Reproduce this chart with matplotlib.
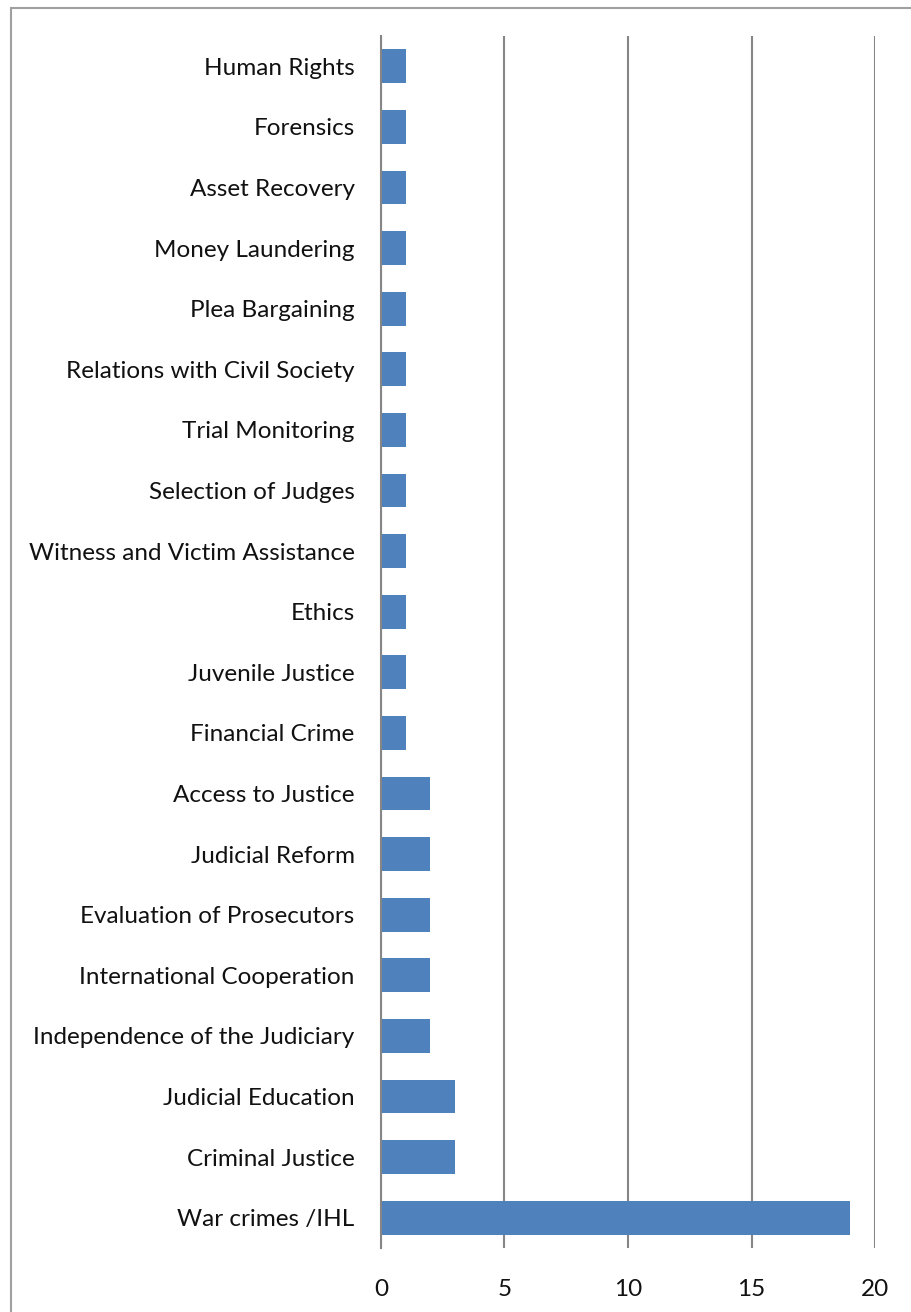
import matplotlib
matplotlib.use('Agg')
import matplotlib.pyplot as plt
from matplotlib.patches import Rectangle

# categories listed bottom to top
topics = ['War crimes /IHL', 'Criminal Justice', 'Judicial Education',
          'Independence of the Judiciary', 'International Cooperation',
          'Evaluation of Prosecutors', 'Judicial Reform', 'Access to Justice',
          'Financial Crime', 'Juvenile Justice', 'Ethics',
          'Witness and Victim Assistance', 'Selection of Judges',
          'Trial Monitoring', 'Relations with Civil Society', 'Plea Bargaining',
          'Money Laundering', 'Asset Recovery', 'Forensics', 'Human Rights']
counts = [19, 3, 3, 2, 2, 2, 2, 2, 1, 1, 1, 1, 1, 1, 1, 1, 1, 1, 1, 1]
xticks = [0, 5, 10, 15, 20]

plt.rcParams['font.family'] = ['Lato', 'DejaVu Sans']

W, H = 912, 1312
fig = plt.figure(figsize=(W / 100, H / 100), dpi=100)

# outer chart frame (cut off on right and bottom)
fig.patches.append(Rectangle((11 / W, -0.1), 1.2, 1 - 8 / H + 0.1,
                             transform=fig.transFigure, fill=False,
                             edgecolor='#A0A0A0', linewidth=1.5))

ax = fig.add_axes([381 / W, 64 / H, (875 - 381) / W, (1248 - 36) / H])
ypos = range(len(topics))
ax.barh(ypos, counts, height=0.56, color='#4F81BD', zorder=3)

ax.set_xlim(0, 20)
ax.set_ylim(-0.5, len(topics) - 0.5)
ax.set_xticks(xticks)
ax.set_xticklabels([str(t) for t in xticks], fontsize=17.5, color='#111111')
ax.set_yticks(list(ypos))
ax.set_yticklabels(topics, fontsize=17.5, color='#111111')
ax.tick_params(axis='x', length=0, pad=22)
ax.tick_params(axis='y', length=0, pad=19)

ax.grid(axis='x', color='#868686', linewidth=1.5, zorder=0)
for s in ['top', 'right', 'bottom']:
    ax.spines[s].set_visible(False)
ax.spines['left'].set_color('#868686')
ax.spines['left'].set_linewidth(1.5)
ax.spines['left'].set_zorder(4)

fig.savefig('out.png', dpi=100)
